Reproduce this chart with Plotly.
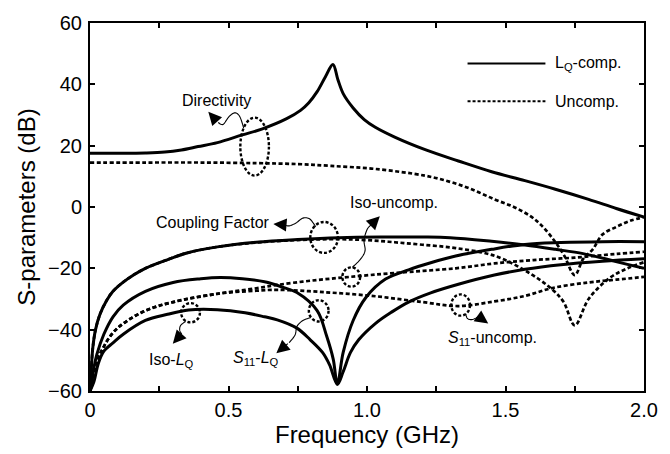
import plotly.graph_objects as go

# ---------------- data ----------------
# Directivity, LQ-compensated (solid)
f_dir_c = [0, 0.1, 0.2, 0.27, 0.33, 0.39, 0.46, 0.55, 0.62, 0.71, 0.76, 0.79, 0.82, 0.85, 0.877,
           0.895, 0.915, 0.95, 0.99, 1.03, 1.1, 1.21, 1.33, 1.45, 1.57, 1.68, 1.8, 1.9, 2.0]
d_dir_c = [17.5, 17.5, 17.6, 17.9, 18.6, 19.7, 21.0, 23.5, 25.4, 28.8, 31.5, 34.0, 37.6, 42.5, 46.5,
           41.5, 36.8, 32.3, 28.5, 26.0, 22.8, 18.7, 15.0, 11.5, 8.6, 5.8, 2.5, -0.5, -3.3]

# Directivity, uncompensated (dotted)
f_dir_u = [0, 0.2, 0.4, 0.6, 0.75, 0.87, 1.03, 1.21, 1.3, 1.38, 1.46, 1.53, 1.59, 1.63, 1.673,
           1.71, 1.75, 1.78, 1.815, 1.85, 1.9, 1.95, 2.0]
d_dir_u = [14.5, 14.5, 14.5, 14.3, 14.0, 13.4, 12.4, 10.2, 8.2, 5.7, 2.5, 0.0, -3.0, -6.0, -10.6,
           -15.5, -22.2, -17.0, -13.8, -9.0, -6.5, -4.5, -3.3]

# Coupling factor, LQ-compensated (solid)
f_cpl_c = [0, 0.004, 0.01, 0.02, 0.036, 0.06, 0.083, 0.12, 0.16, 0.2, 0.27, 0.35, 0.46, 0.6, 0.75,
           0.9, 1.05, 1.2, 1.3, 1.45, 1.57, 1.68, 1.78, 1.86, 1.94, 2.0]
d_cpl_c = [-60, -54, -46, -40, -35, -30.5, -27.5, -24.5, -22, -20, -17.5, -15, -13, -11.5, -10.6,
           -10, -9.8, -9.8, -10, -11.2, -12.4, -13.8, -15.2, -16.9, -18.7, -20]

# Coupling factor, uncompensated (dotted)
f_cpl_u = [0, 0.004, 0.01, 0.02, 0.036, 0.06, 0.083, 0.12, 0.16, 0.2, 0.27, 0.35, 0.46, 0.6, 0.75,
           0.9, 1.0, 1.1, 1.2, 1.32, 1.46, 1.58, 1.67, 1.71, 1.75, 1.8, 1.875, 1.94, 2.0]
d_cpl_u = [-60, -54, -46, -40, -35, -30.5, -27.5, -24.5, -22, -20, -17.5, -15, -13, -11.6, -10.8,
           -10.5, -10.8, -11.5, -12.3, -13.4, -15.9, -21.2, -27, -31, -38.6, -30, -23.2, -20, -18]

# S11, LQ-compensated (solid)
f_s11_c = [0, 0.006, 0.015, 0.025, 0.05, 0.083, 0.12, 0.2, 0.3, 0.4, 0.47, 0.55, 0.63, 0.7, 0.747,
           0.82, 0.854, 0.878, 0.893, 0.914, 0.95, 0.996, 1.067, 1.15, 1.23, 1.32, 1.45, 1.57, 1.7,
           1.85, 2.0]
d_s11_c = [-60, -57, -52, -48, -41.5, -35.8, -32, -27.5, -24.6, -23.4, -23, -23.4, -24.4, -26.3, -27.9,
           -33.8, -42, -49.6, -57.8, -47.4, -37, -29.5, -23.5, -20.5, -18.2, -16, -13.8, -12.2, -11.6,
           -11.3, -11.3]

# Isolation, LQ-compensated (solid)
f_iso_c = [0, 0.014, 0.03, 0.05, 0.083, 0.12, 0.2, 0.28, 0.356, 0.46, 0.56, 0.63, 0.676, 0.747,
           0.795, 0.84, 0.865, 0.893, 0.914, 0.94, 0.97, 1.03, 1.09, 1.15, 1.23, 1.33, 1.46, 1.57,
           1.7, 1.85, 2.0]
d_iso_c = [-60, -57, -51, -47, -44.3, -41.5, -37, -35, -33.6, -33.5, -34.5, -35.8, -36.8, -39.5,
           -43.3, -47.5, -51.5, -57.8, -53.7, -47.5, -43.3, -38, -34.2, -31, -28, -25.2, -22.2, -20.3,
           -18.8, -17.7, -16.9]

# Isolation, uncompensated (dotted)
f_iso_u = [0, 0.01, 0.025, 0.05, 0.083, 0.12, 0.2, 0.3, 0.46, 0.6, 0.676, 0.8, 0.937, 1.1, 1.32,
           1.46, 1.6, 1.75, 1.9, 2.0]
d_iso_u = [-60, -57, -50.5, -45.5, -41, -38, -33.8, -31, -28.3, -26.5, -25.4, -24, -22.8, -21.5, -20,
           -18.4, -17.3, -16.5, -15.3, -14.6]

# S11, uncompensated (dotted)
f_s11_u = [0, 0.01, 0.025, 0.05, 0.083, 0.12, 0.2, 0.3, 0.46, 0.6, 0.676, 0.85, 1.03, 1.2, 1.33,
           1.46, 1.57, 1.67, 1.8, 1.9, 2.0]
d_s11_u = [-60, -57, -50.5, -45.5, -41, -38, -33.8, -31, -28.3, -27.3, -27, -27.8, -29.1, -31, -32.3,
           -30.8, -29, -26.4, -24.6, -23.7, -22.8]

x_tickvals = [0, 0.5, 1.0, 1.5, 2.0]
x_ticktext = ["0", "0.5", "1.0", "1.5", "2.0"]
y_tickvals = [-60, -40, -20, 0, 20, 40, 60]

FONT = "Liberation Sans, Arial, Helvetica, sans-serif"
SOLID = dict(color="black", width=3)
DOT = dict(color="black", width=2.7, dash="4px,2.5px")

fig = go.Figure()
for fx, fy, ln in [
    (f_dir_u, d_dir_u, DOT), (f_cpl_u, d_cpl_u, DOT), (f_iso_u, d_iso_u, DOT), (f_s11_u, d_s11_u, DOT),
    (f_dir_c, d_dir_c, SOLID), (f_cpl_c, d_cpl_c, SOLID), (f_s11_c, d_s11_c, SOLID), (f_iso_c, d_iso_c, SOLID),
]:
    fig.add_trace(go.Scatter(x=fx, y=fy, mode="lines", line=ln, showlegend=False,
                             line_shape="spline", hoverinfo="skip"))

# ---------- helpers for annotation placement (pixel -> data) ----------
L, R, T, B = 90, 652, 19, 400
def X(px):
    return (px - L) / (R - L) * 2.0
def Y(py):
    return 60 - (py - T) / (B - T) * 120.0

shapes = []
annotations = []

def ellipse(cx, cy, rx, ry):
    shapes.append(dict(type="circle", xref="x", yref="y", x0=X(cx - rx), x1=X(cx + rx),
                       y0=Y(cy + ry), y1=Y(cy - ry),
                       line=dict(color="black", width=2.4, dash="3px,2px")))

def wavy(points, n=8):
    # smooth Catmull-Rom curve through pixel waypoints, emitted as a polyline path
    pts = [points[0]] + list(points) + [points[-1]]
    out = []
    for i in range(1, len(pts) - 2):
        p0, p1, p2, p3 = pts[i - 1], pts[i], pts[i + 1], pts[i + 2]
        for k in range(n):
            t = k / n
            t2, t3 = t * t, t * t * t
            xs = 0.5 * ((2 * p1[0]) + (-p0[0] + p2[0]) * t + (2 * p0[0] - 5 * p1[0] + 4 * p2[0] - p3[0]) * t2
                        + (-p0[0] + 3 * p1[0] - 3 * p2[0] + p3[0]) * t3)
            ys = 0.5 * ((2 * p1[1]) + (-p0[1] + p2[1]) * t + (2 * p0[1] - 5 * p1[1] + 4 * p2[1] - p3[1]) * t2
                        + (-p0[1] + 3 * p1[1] - 3 * p2[1] + p3[1]) * t3)
            out.append((xs, ys))
    out.append(points[-1])
    path = "M" + " L".join("{:.5f},{:.4f}".format(X(a), Y(b)) for a, b in out)
    shapes.append(dict(type="path", xref="x", yref="y", path=path,
                       line=dict(color="black", width=1.1)))

def arrowhead(tip, tail):
    annotations.append(dict(x=X(tip[0]), y=Y(tip[1]), xref="x", yref="y", text="",
                            showarrow=True, arrowhead=2, arrowsize=2.2, arrowwidth=1.2,
                            arrowcolor="black", ax=tail[0] - tip[0], ay=tail[1] - tip[1],
                            standoff=0))

def label(px, py, txt, size=16, xanchor="center"):
    annotations.append(dict(x=X(px), y=Y(py), xref="x", yref="y", text=txt, showarrow=False,
                            font=dict(family=FONT, size=size, color="black"), xanchor=xanchor,
                            yanchor="middle"))

# Directivity
ellipse(257, 147, 14.5, 30)
wavy([(246, 128), (242, 116), (237, 112), (231, 116), (225, 124), (220, 122)])
arrowhead((210, 111), (220, 122))
label(218, 99, "Directivity")

# Coupling Factor
ellipse(327.5, 241, 14, 16)
wavy([(319, 230), (313, 222), (306, 221), (299, 226), (292, 229), (287, 228)])
arrowhead((276, 227), (288, 228))
label(215, 226, "Coupling Factor")

# Iso-uncomp.
ellipse(355, 282, 9, 10)
wavy([(356, 272), (364, 264), (369, 255), (368, 244), (371, 233), (375, 228)])
arrowhead((384, 219), (375, 228))
label(398, 205, "Iso-uncomp.")

# S11-LQ
ellipse(322, 317, 10, 11)
wavy([(314, 324), (306, 327), (300, 333), (298, 342), (292, 350)])
arrowhead((279, 361), (292, 350))
label(258, 366, "<i>S</i><sub>11</sub>-<i>L</i><sub>Q</sub>")

# Iso-LQ
ellipse(192, 319, 9.5, 10)
wavy([(187, 328), (182, 332), (181, 337), (183, 341)])
arrowhead((174, 351), (183, 341))
label(173, 368, "Iso-<i>L</i><sub>Q</sub>")

# S11-uncomp.
ellipse(466, 311, 9.5, 11)
wavy([(471, 320), (473, 325), (478, 326), (484, 323)])
arrowhead((494, 330), (484, 323))
label(498, 346, "<i>S</i><sub>11</sub>-uncomp.")

# Legend (drawn manually)
shapes.append(dict(type="line", xref="x", yref="y", x0=X(473), x1=X(552), y0=Y(61), y1=Y(61),
                   line=dict(color="black", width=2)))
shapes.append(dict(type="line", xref="x", yref="y", x0=X(473), x1=X(552), y0=Y(100), y1=Y(100),
                   line=dict(color="black", width=2, dash="3px,2px")))
label(560, 61, "L<sub>Q</sub>-comp.", size=16, xanchor="left")
label(560, 100, "Uncomp.", size=16, xanchor="left")

axis_common = dict(showline=True, linecolor="black", linewidth=2, mirror="ticks",
                   ticks="inside", ticklen=5, tickwidth=1.5, tickcolor="black",
                   showgrid=False, zeroline=False,
                   tickfont=dict(family=FONT, size=20, color="black"))

fig.update_layout(
    width=670, height=454,
    margin=dict(l=L, r=670 - R, t=T, b=454 - B),
    paper_bgcolor="white", plot_bgcolor="white",
    showlegend=False,
    shapes=shapes, annotations=annotations,
    xaxis=dict(range=[0, 2], tickvals=x_tickvals, ticktext=x_ticktext,
               minor=dict(dtick=0.25, ticks="inside", ticklen=5, tickwidth=1.5, tickcolor="black"),
               title=dict(text="Frequency (GHz)", font=dict(family=FONT, size=24, color="black"),
                          standoff=4),
               **axis_common),
    yaxis=dict(range=[-60, 60], tickvals=y_tickvals,
               title=dict(text="S-parameters (dB)", font=dict(family=FONT, size=24, color="black"),
                          standoff=6),
               ticklabelstandoff=2,
               **axis_common),
)

fig.write_html("out.html")
